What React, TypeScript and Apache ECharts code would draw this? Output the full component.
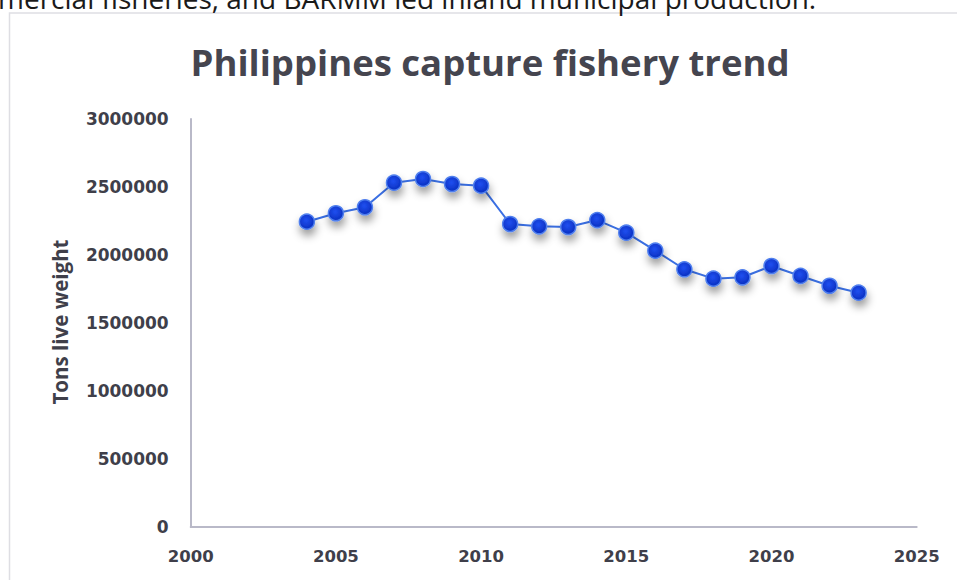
import React, { useEffect, useRef } from "react";
import * as echarts from "echarts";

const years = [2004, 2005, 2006, 2007, 2008, 2009, 2010, 2011, 2012, 2013, 2014, 2015, 2016, 2017, 2018, 2019, 2020, 2021, 2022, 2023];
const tons = [2245000, 2307000, 2351000, 2532000, 2559000, 2522000, 2510000, 2228000, 2211000, 2206000, 2257000, 2164000, 2032000, 1895000, 1826000, 1836000, 1919000, 1846000, 1774000, 1723000];
const titleText = "Philippines capture fishery trend";
const yAxisTitle = "Tons live weight";
const topCaption = "mercial fisheries, and BARMM led inland municipal production.";

export default function App() {
  const ref = useRef<HTMLDivElement>(null);
  useEffect(() => {
    if (!ref.current) return;
    const chart = echarts.init(ref.current, null, { renderer: "svg" });
    const font = "'Open Sans', 'Noto Sans', sans-serif";
    const tickFont = "'DejaVu Sans', 'Open Sans', sans-serif";
    const labelColor = "#3f3f4a";
    chart.setOption({
      animation: false,
      backgroundColor: "#ffffff",
      grid: { left: 190.7, right: 40.3, top: 119, bottom: 53, containLabel: false },
      xAxis: {
        type: "value",
        min: 2000,
        max: 2025,
        interval: 5,
        axisLine: { show: true, lineStyle: { color: "#b9b9c8", width: 2 } },
        axisTick: { show: false },
        splitLine: { show: false },
        axisLabel: {
          color: labelColor,
          fontFamily: tickFont,
          fontWeight: "bold",
          fontSize: 16.5,
          margin: 21,
          formatter: (v: number) => String(v),
        },
      },
      yAxis: {
        type: "value",
        min: 0,
        max: 3000000,
        interval: 500000,
        axisLine: { show: true, lineStyle: { color: "#b9b9c8", width: 2 } },
        axisTick: { show: false },
        splitLine: { show: false },
        axisLabel: {
          color: labelColor,
          fontFamily: tickFont,
          fontWeight: "bold",
          fontSize: 17,
          margin: 22,
          formatter: (v: number) => String(v),
        },
      },
      graphic: [
        {
          type: "rect",
          shape: { x: 9.5, y: 13, width: 1000, height: 600 },
          style: { fill: "none", stroke: "#dedee3", lineWidth: 1.5 },
          silent: true,
        },
        {
          type: "text",
          x: -2,
          y: -2,
          style: { text: topCaption, fontFamily: font, fontSize: 28, fill: "#1a1a1a", textAlign: "left", textVerticalAlign: "middle" },
          silent: true,
        },
        {
          type: "text",
          x: 490,
          y: 62,
          style: { text: titleText, fontFamily: font, fontWeight: "bold", fontSize: 36.5, fill: "#45454f", textAlign: "center", textVerticalAlign: "middle" },
          silent: true,
        },
        {
          type: "text",
          x: 60,
          y: 322,
          rotation: Math.PI / 2,
          style: { text: yAxisTitle, fontFamily: font, fontWeight: "bold", fontSize: 20.5, fill: labelColor, textAlign: "center", textVerticalAlign: "middle" },
          silent: true,
        },
      ],
      series: [
        {
          type: "line",
          data: years.map((y, i) => [y, tons[i]]),
          symbol: "circle",
          symbolSize: 15,
          lineStyle: { color: "#3a6fe3", width: 2 },
          itemStyle: {
            color: {
              type: "radial",
              x: 0.45,
              y: 0.4,
              r: 0.6,
              colorStops: [
                { offset: 0, color: "#1f4ff0" },
                { offset: 1, color: "#0a2fc0" },
              ],
            },
            borderColor: "#4f7fee",
            borderWidth: 1.5,
            shadowBlur: 9,
            shadowColor: "rgba(0,0,0,0.4)",
            shadowOffsetY: 6,
            shadowOffsetX: 1,
          },
        },
      ],
    });
    return () => chart.dispose();
  }, []);
  return (
    <div style={{ position: "fixed", left: 0, top: 0, width: 957, height: 580, background: "#fff" }}>
      <div ref={ref} style={{ width: 957, height: 580 }} />
    </div>
  );
}
